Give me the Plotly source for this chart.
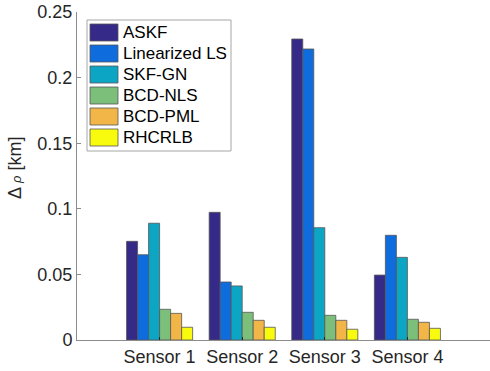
import plotly.graph_objects as go

categories = ["Sensor 1", "Sensor 2", "Sensor 3", "Sensor 4"]
series_names = ["ASKF", "Linearized LS", "SKF-GN", "BCD-NLS", "BCD-PML", "RHCRLB"]
askf = [0.0752, 0.0973, 0.2294, 0.0495]
linearized_ls = [0.0650, 0.0442, 0.2218, 0.0798]
skf_gn = [0.0890, 0.0412, 0.0856, 0.0630]
bcd_nls = [0.0234, 0.0211, 0.0188, 0.0158]
bcd_pml = [0.0203, 0.0150, 0.0150, 0.0135]
rhcrlb = [0.0097, 0.0097, 0.0082, 0.0089]
colors = ["#352a87", "#0f6cdc", "#0ca6c4", "#7bbf7b", "#f1b647", "#f9fb0e"]

series = [askf, linearized_ls, skf_gn, bcd_nls, bcd_pml, rhcrlb]
x_pos = list(range(1, len(categories) + 1))

W, H = 490, 371
L, R, T, B = 77, 0, 12, 31
pw, ph = W - L - R, H - T - B

def px_x(x):
    return (x - L) / pw

def px_y(y):
    return (H - B - y) / ph

fig = go.Figure()
for name, vals, col in zip(series_names, series, colors):
    fig.add_trace(go.Bar(
        x=x_pos, y=vals, name=name, showlegend=False,
        marker=dict(color=col, line=dict(color="#555555", width=0.8)),
    ))

font = "Liberation Sans, Arial, Helvetica, sans-serif"

# custom legend (large swatches like the original)
shapes = [dict(type="rect", xref="paper", yref="paper",
               x0=px_x(87), x1=px_x(231), y0=px_y(151), y1=px_y(20),
               line=dict(color="#a6a6a6", width=1), fillcolor="white", layer="above")]
annotations = []
row_top = 24
row_h = 21
for i, (name, col) in enumerate(zip(series_names, colors)):
    y0 = row_top + i * row_h
    shapes.append(dict(type="rect", xref="paper", yref="paper",
                       x0=px_x(90), x1=px_x(118), y0=px_y(y0 + 17), y1=px_y(y0),
                       line=dict(color="#555555", width=0.8), fillcolor=col, layer="above"))
    annotations.append(dict(xref="paper", yref="paper", x=px_x(121), y=px_y(y0 + 8.5),
                            xanchor="left", yanchor="middle", showarrow=False,
                            text=name, font=dict(family=font, size=17, color="#000000")))

annotations.append(dict(xref="paper", yref="paper", x=px_x(15), y=px_y(168),
                        xanchor="center", yanchor="middle", showarrow=False, textangle=-90,
                        text="Δ <span style='font-size:13px'><i>ρ</i></span> [km]",
                        font=dict(family=font, size=18, color="#262626")))

fig.update_layout(
    width=W, height=H,
    margin=dict(l=L, r=R, t=T, b=B, autoexpand=False),
    paper_bgcolor="white", plot_bgcolor="white",
    barmode="group", bargap=0.2, bargroupgap=0,
    font=dict(family=font, size=18, color="#262626"),
    showlegend=False,
    shapes=shapes, annotations=annotations,
    xaxis=dict(
        range=[0, 5], tickmode="array", tickvals=x_pos, ticktext=categories,
        showline=True, linecolor="#8c8c8c", linewidth=1,
        ticks="inside", ticklen=3, tickcolor="#262626",
        showgrid=False, zeroline=False, mirror=False, automargin=False,
        tickfont=dict(size=18, color="#262626"),
    ),
    yaxis=dict(
        range=[0, 0.25], tickvals=[0, 0.05, 0.1, 0.15, 0.2, 0.25],
        ticktext=["0", "0.05", "0.1", "0.15", "0.2", "0.25"],
        showline=True, linecolor="#8c8c8c", linewidth=1,
        ticks="inside", ticklen=4, tickcolor="#8c8c8c",
        showgrid=False, zeroline=False, automargin=False,
        tickfont=dict(size=18, color="#262626"),
    ),
)

fig.write_html("out.html", config={"displayModeBar": False},
               post_script="document.body.style.margin='0';document.body.style.overflow='hidden';")
